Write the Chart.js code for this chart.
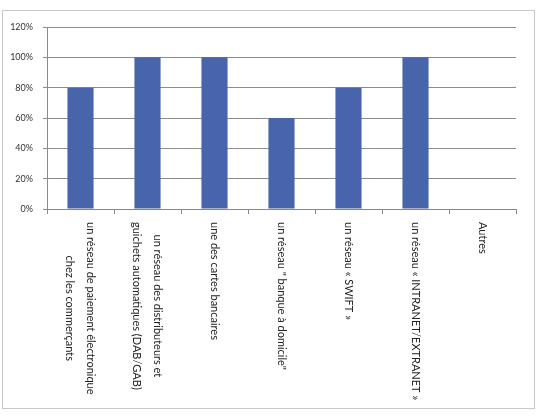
<!DOCTYPE html>
<html>
<head>
<meta charset="utf-8">
<script src="https://cdn.jsdelivr.net/npm/chart.js@4"></script>
<style>
  html, body { margin: 0; padding: 0; background: #fff; }
  #wrap { width: 538px; height: 416px; position: relative; }
</style>
</head>
<body>
<div id="wrap"><canvas id="chart" width="538" height="416"></canvas></div>
<script>
const categories = [
  ["un réseau de paiement électronique", "chez les commerçants"],
  ["un réseau des distributeurs et", "guichets automatiques (DAB/GAB)"],
  ["une des cartes bancaires"],
  ["un réseau \" banque à domicile\""],
  ["un réseau « SWIFT »"],
  ["un réseau « INTRANET/EXTRANET »"],
  ["Autres"]
];
const values = [0.8, 1.0, 1.0, 0.6, 0.8, 1.0, 0];
const yTicks = [0, 0.2, 0.4, 0.6, 0.8, 1.0, 1.2];

const labelFont = "11px Lato, 'Open Sans', sans-serif";

// rotated category labels, reading top to bottom like the original
const rotatedLabels = {
  id: 'rotatedLabels',
  afterDraw(chart) {
    const ctx = chart.ctx;
    const x = chart.scales.x;
    ctx.save();
    ctx.font = labelFont;
    ctx.fillStyle = '#222';
    ctx.textBaseline = 'middle';
    ctx.textAlign = 'center';
    categories.forEach((lines, i) => {
      const px = x.getPixelForValue(i);
      const w = Math.max(...lines.map(l => ctx.measureText(l).width));
      const lh = 21;
      ctx.save();
      ctx.translate(px, x.top + 13);
      ctx.rotate(Math.PI / 2);
      lines.forEach((l, k) => {
        ctx.fillText(l, w / 2, (k - (lines.length - 1) / 2) * lh);
      });
      ctx.restore();
    });
    ctx.restore();
  }
};

const frame = {
  id: 'frame',
  beforeDraw(chart) {
    const ctx = chart.ctx;
    ctx.save();
    ctx.fillStyle = '#fff';
    ctx.fillRect(0, 0, chart.width, chart.height);
    ctx.strokeStyle = '#c8c8c8';
    ctx.lineWidth = 1;
    ctx.strokeRect(2.5, 10.5, 532, 398);
    ctx.restore();
  }
};

new Chart(document.getElementById('chart'), {
  type: 'bar',
  data: {
    labels: categories,
    datasets: [{
      data: values,
      backgroundColor: '#4865AB',
      borderWidth: 0,
      barPercentage: 0.39,
      categoryPercentage: 1
    }]
  },
  options: {
    responsive: false,
    animation: false,
    layout: { padding: { top: 27, right: 22, bottom: 0, left: 0 } },
    plugins: { legend: { display: false }, tooltip: { enabled: false } },
    scales: {
      x: {
        ticks: { display: false },
        grid: { offset: true, drawOnChartArea: false, drawTicks: true, tickLength: 5, color: '#888' },
        border: { color: '#888' },
        afterFit(s) { s.height = 416 - 209; }
      },
      y: {
        min: 0,
        max: 1.2,
        afterBuildTicks(s) { s.ticks = yTicks.map(v => ({ value: v })); },
        ticks: {
          callback: v => Math.round(v * 100) + '%',
          font: { family: "Lato, 'Open Sans', sans-serif", size: 9 },
          color: '#333',
          padding: 10
        },
        grid: { color: '#8c8c8c', tickLength: 4 },
        border: { color: '#8c8c8c' },
        afterFit(s) { s.width = 47; }
      }
    }
  },
  plugins: [frame, rotatedLabels]
});
</script>
</body>
</html>
